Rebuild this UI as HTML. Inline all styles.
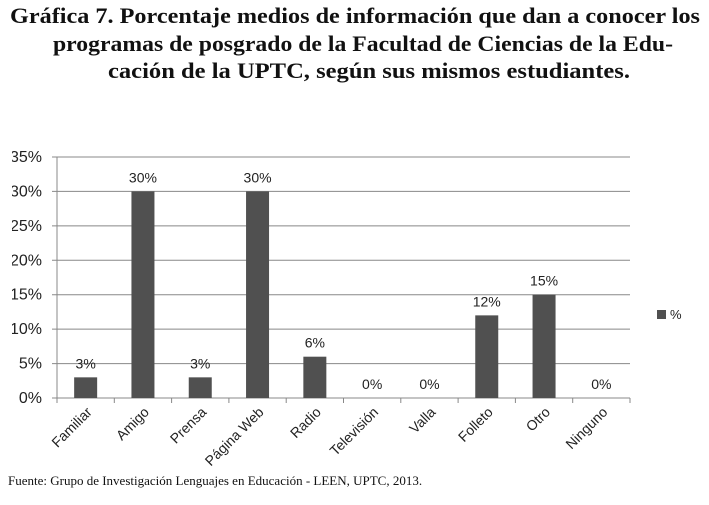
<!DOCTYPE html>
<html><head><meta charset="utf-8"><style>
body{margin:0;width:709px;height:500px;background:#fff;overflow:hidden;font-family:"Liberation Serif",serif}
</style></head><body>
<svg width="709" height="500">
<g font-family="Liberation Serif, serif" font-weight="bold" font-size="22" fill="#111">
<text x="10" y="23" textLength="690" lengthAdjust="spacingAndGlyphs">Gráfica 7. Porcentaje medios de información que dan a conocer los</text>
<text x="53" y="51" textLength="620" lengthAdjust="spacingAndGlyphs">programas de posgrado de la Facultad de Ciencias de la Edu-</text>
<text x="108" y="78" textLength="522" lengthAdjust="spacingAndGlyphs">cación de la UPTC, según sus mismos estudiantes.</text>
</g>
<g id="plot"></g>
<rect x="0" y="140" width="12" height="270" fill="#fff"/>
<rect x="657" y="310" width="9" height="9" fill="#505050"/>
<text x="670" y="319" font-family="Liberation Sans, sans-serif" font-size="13" fill="#222">%</text>
<text x="8" y="485" font-size="13" fill="#111">Fuente: Grupo de Investigación Lenguajes en Educación - LEEN, UPTC, 2013.</text>
</svg>
<script>
const categories=["Familiar","Amigo","Prensa","Página Web","Radio","Televisión","Valla","Folleto","Otro","Ninguno"];
const values=[3,30,3,30,6,0,0,12,15,0];
const valueLabels=["3%","30%","3%","30%","6%","0%","0%","12%","15%","0%"];
const ticks=[0,5,10,15,20,25,30,35];
const tickLabels=["0%","5%","10%","15%","20%","25%","30%","35%"];
const NS="http://www.w3.org/2000/svg",g=document.getElementById("plot");
const x0=57,x1=630,yb=398,yt=157,max=35;
const y=v=>yb-(v/max)*(yb-yt);
const slot=(x1-x0)/categories.length;
const xc=i=>x0+slot*(i+0.5);
function mk(t,a){const e=document.createElementNS(NS,t);for(const k in a)e.setAttribute(k,a[k]);g.appendChild(e);return e;}
ticks.forEach((t,i)=>{
 const l=mk("line",{x1:x0-5,x2:x1,y1:y(t),y2:y(t),stroke:"#888","stroke-width":1});
 
 
 const tx=mk("text",{x:42,y:y(t)+5,"text-anchor":"end","font-family":"Liberation Sans, sans-serif","font-size":16,fill:"#222"});
 tx.textContent=tickLabels[i];
 
 
});
const ax=mk("line",{x1:x0,x2:x0,y1:yt,y2:yb,stroke:"#888"});


for(let i=0;i<=categories.length;i++){
 const t=mk("line",{x1:x0+slot*i,x2:x0+slot*i,y1:yb,y2:yb+5,stroke:"#888"});
 
 
}
categories.forEach((c,i)=>{
 const w=23;
 const b=mk("rect",{x:xc(i)-w/2,y:y(values[i]),width:w,height:yb-y(values[i]),fill:"#505050"});
 
 
 const v=mk("text",{x:xc(i),y:y(values[i])-9,"text-anchor":"middle","font-family":"Liberation Sans, sans-serif","font-size":14,fill:"#222"});
 v.textContent=valueLabels[i];
 
 
 const cl=mk("text",{x:xc(i)+7,y:yb+15,"text-anchor":"end","font-family":"Liberation Sans, sans-serif","font-size":14,fill:"#222",transform:`rotate(-45 ${xc(i)+7} ${yb+15})`});
 cl.textContent=c;
 
 
});
</script>
</body></html>
